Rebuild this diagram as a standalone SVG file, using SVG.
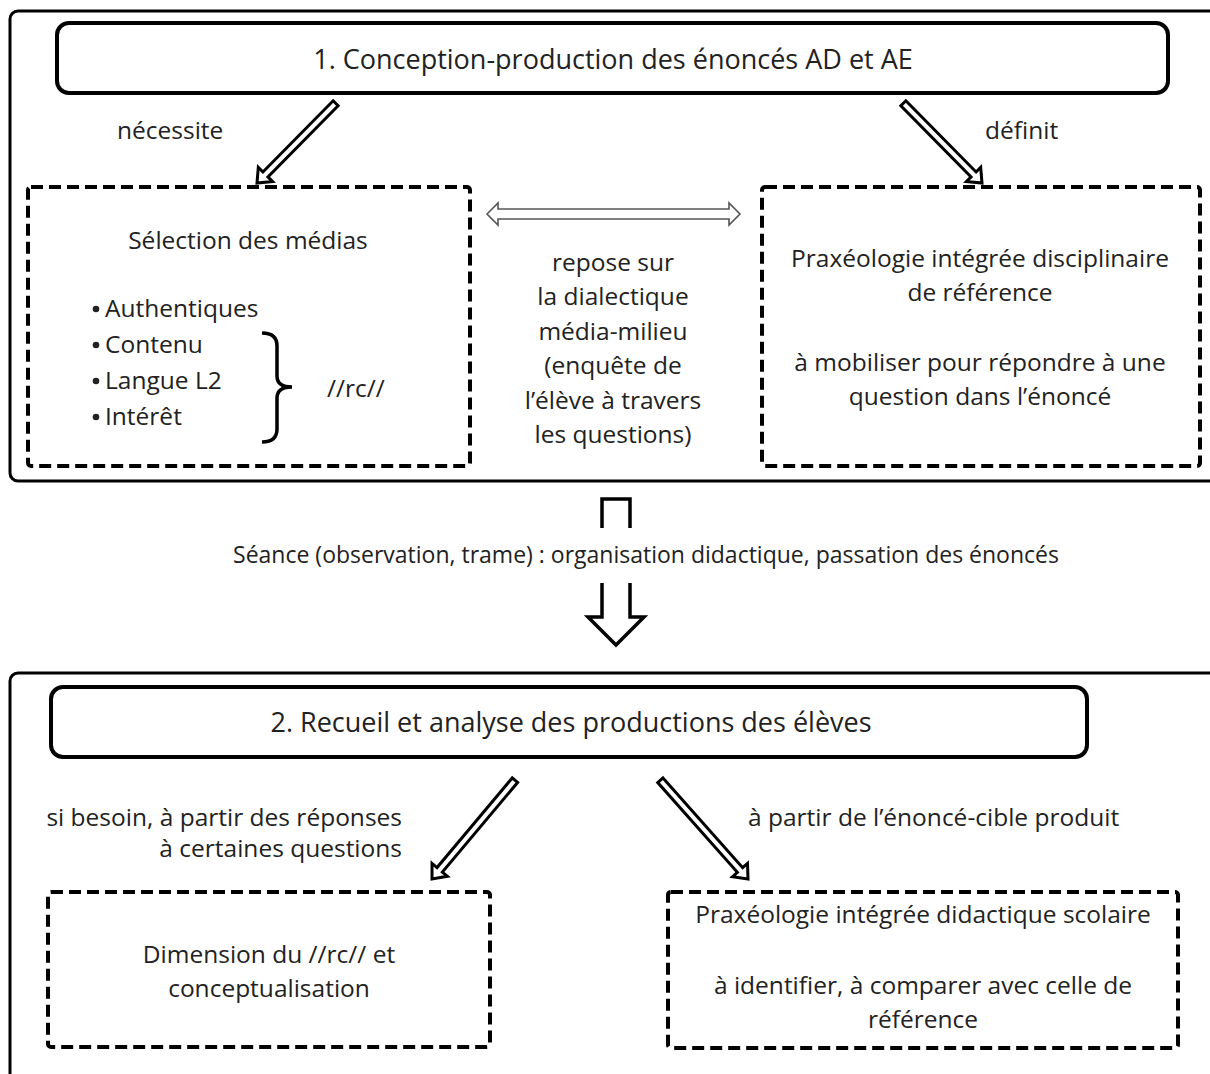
<svg xmlns="http://www.w3.org/2000/svg" width="1210" height="1074" viewBox="0 0 1210 1074">
<style>
text{font-family:"Open Sans","Noto Sans","Liberation Sans",sans-serif;font-size:24.5px;fill:#222}
.t{font-size:27px}
.s{font-size:23px}
.c{text-anchor:middle}
.r{text-anchor:end}
.frame{fill:none;stroke:#000;stroke-width:3}
.title{fill:#fff;stroke:#000;stroke-width:4}
.dash{fill:none;stroke:#000;stroke-width:4;stroke-dasharray:12 6}
.arr{fill:#fff;stroke:#000;stroke-width:3;stroke-linejoin:miter}
.harr{fill:#fff;stroke:#555;stroke-width:1.6}
.blk{fill:none;stroke:#000;stroke-width:3.5;stroke-linejoin:miter}
</style>
<rect width="1210" height="1074" fill="#fff"/>
<g id="frame1"><rect class="frame" x="10" y="11" width="1230" height="470" rx="8"/></g>
<g id="frame2"><rect class="frame" x="10" y="673" width="1230" height="420" rx="8"/></g>

<g id="title1">
<rect class="title" x="57" y="23" width="1111" height="70" rx="12"/>
<text class="c t" x="613" y="69">1. Conception-production des énoncés AD et AE</text>
</g>

<g id="medias">
<rect class="dash" x="28" y="187" width="442" height="279" rx="3"/>
<text class="c" x="248" y="249">Sélection des médias</text>
<circle cx="96" cy="309" r="3.3" fill="#222"/>
<text x="105" y="317">Authentiques</text>
<circle cx="96" cy="345" r="3.3" fill="#222"/>
<text x="105" y="353">Contenu</text>
<circle cx="96" cy="381" r="3.3" fill="#222"/>
<text x="105" y="389">Langue L2</text>
<circle cx="96" cy="417" r="3.3" fill="#222"/>
<text x="105" y="425">Intérêt</text>
<path d="M262,333 Q277,333 277,346 V376 Q277,387 292,387 Q277,387 277,398 V429 Q277,442 262,442" fill="none" stroke="#000" stroke-width="3.5"/>
<text x="327" y="397">//rc//</text>
</g>

<g id="praxeo-ref">
<rect class="dash" x="762" y="187" width="438" height="279" rx="3"/>
<text class="c" x="980" y="267">Praxéologie intégrée disciplinaire</text>
<text class="c" x="980" y="301">de référence</text>
<text class="c" x="980" y="371">à mobiliser pour répondre à une</text>
<text class="c" x="980" y="405">question dans l’énoncé</text>
</g>

<g id="dialectique">
<text class="c" x="613" y="271">repose sur</text>
<text class="c" x="613" y="305">la dialectique</text>
<text class="c" x="613" y="340">média-milieu</text>
<text class="c" x="613" y="374">(enquête de</text>
<text class="c" x="613" y="409">l’élève à travers</text>
<text class="c" x="613" y="443">les questions)</text>
</g>

<g id="seance">
<text class="c s" x="646" y="563">Séance (observation, trame) : organisation didactique, passation des énoncés</text>
</g>

<g id="title2">
<rect class="title" x="51" y="687" width="1036" height="70" rx="12"/>
<text class="c t" x="571" y="732">2. Recueil et analyse des productions des élèves</text>
</g>

<g id="dimension">
<rect class="dash" x="48" y="892" width="442" height="155" rx="3"/>
<text class="c" x="269" y="963">Dimension du //rc// et</text>
<text class="c" x="269" y="997">conceptualisation</text>
</g>

<g id="praxeo-scol">
<rect class="dash" x="668" y="892" width="510" height="156" rx="3"/>
<text class="c" x="923" y="923">Praxéologie intégrée didactique scolaire</text>
<text class="c" x="923" y="994">à identifier, à comparer avec celle de</text>
<text class="c" x="923" y="1028">référence</text>
</g>

<g id="connectors">
<g transform="translate(257,183) rotate(134.6)"><polygon class="arr" points="-112,-3.5 -12,-3.5 -12,-10 0,0 -12,10 -12,3.5 -112,3.5"/></g>
<text x="117" y="139">nécessite</text>
<g transform="translate(982,183) rotate(45.4)"><polygon class="arr" points="-112,-3.5 -12,-3.5 -12,-10 0,0 -12,10 -12,3.5 -112,3.5"/></g>
<text x="985" y="139">définit</text>
<polygon class="harr" points="487,214 498,203 498,209 729,209 729,203 740,214 729,225 729,219 498,219 498,225"/>
<path class="blk" d="M602,528 V499 H630 V528"/>
<path class="blk" d="M602,583 V617 H588 L616,645 L644,617 H630 V583"/>
<g transform="translate(432,879) rotate(130)"><polygon class="arr" points="-129,-3.5 -12,-3.5 -12,-10 0,0 -12,10 -12,3.5 -129,3.5"/></g>
<text class="r" x="402" y="826">si besoin, à partir des réponses</text>
<text class="r" x="402" y="857">à certaines questions</text>
<g transform="translate(748,879) rotate(48.4)"><polygon class="arr" points="-132,-3.5 -12,-3.5 -12,-10 0,0 -12,10 -12,3.5 -132,3.5"/></g>
<text x="748" y="826">à partir de l’énoncé-cible produit</text>
</g>
</svg>
